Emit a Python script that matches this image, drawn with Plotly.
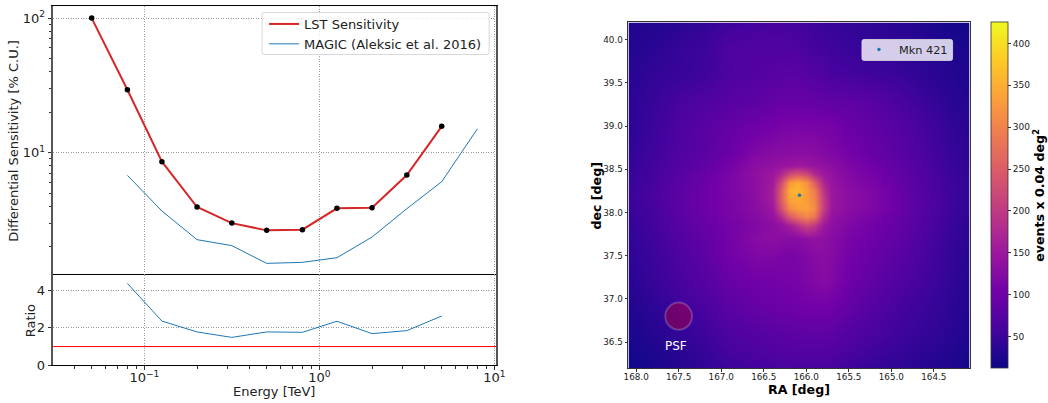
import plotly.graph_objects as go
import plotly.express as px

W, H = 1048, 403
ML, MR, MT, MB = 53, 40.3, 5.5, 35.3
PW, PH = W - ML - MR, H - MT - MB

energy_lst = [0.05, 0.08, 0.126, 0.2, 0.316, 0.5, 0.8, 1.26, 2.0, 3.16, 5.0]
sens_lst = [100, 29.4, 8.58, 3.95, 3.0, 2.65, 2.68, 3.86, 3.9, 6.82, 15.7]
energy_magic = [0.08, 0.126, 0.2, 0.316, 0.5, 0.8, 1.26, 2.0, 3.16, 5.0, 8.0]
sens_magic = [6.79, 3.69, 2.26, 2.04, 1.507, 1.533, 1.66, 2.365, 3.84, 6.09, 15.07]
energy_ratio = [0.08, 0.126, 0.2, 0.316, 0.5, 0.8, 1.26, 2.0, 3.16, 5.0]
ratio = [4.37, 2.36, 1.78, 1.49, 1.78, 1.76, 2.35, 1.69, 1.85, 2.63]
unity_x = [0.0301, 10.23]
unity_y = [1, 1]

ra = [168.09, 167.8, 167.5, 167.2, 166.9, 166.6, 166.4, 166.3, 166.2, 166.1,
      166.0, 165.9, 165.8, 165.7, 165.5, 165.2, 164.9, 164.6, 164.3, 164.08]
dec = [40.2, 39.9, 39.6, 39.3, 39.0, 38.7, 38.55, 38.45, 38.35, 38.25,
       38.15, 38.05, 37.95, 37.85, 37.7, 37.5, 37.2, 36.9, 36.6, 36.2]
events = [
    [28, 30, 35, 42, 52, 58, 60, 60, 58, 56, 54, 50, 48, 46, 42, 38, 34, 28, 18, 16],
    [30, 36, 45, 50, 68, 68, 68, 68, 68, 66, 62, 58, 56, 52, 48, 42, 38, 32, 26, 22],
    [33, 42, 46, 52, 66, 72, 76, 78, 78, 78, 76, 72, 68, 62, 58, 52, 48, 38, 32, 26],
    [36, 46, 60, 68, 76, 82, 88, 90, 92, 92, 90, 88, 86, 84, 84, 76, 62, 48, 36, 30],
    [36, 50, 66, 78, 90, 100, 106, 110, 112, 114, 112, 112, 110, 108, 96, 84, 74, 58, 42, 34],
    [40, 54, 68, 80, 96, 118, 126, 128, 128, 130, 130, 128, 122, 118, 106, 92, 78, 62, 46, 36],
    [42, 56, 72, 86, 106, 132, 138, 142, 148, 152, 148, 142, 138, 132, 116, 100, 84, 66, 48, 38],
    [44, 58, 76, 92, 112, 136, 148, 170, 215, 235, 215, 175, 150, 138, 122, 106, 86, 68, 50, 38],
    [46, 60, 78, 96, 114, 134, 155, 220, 325, 348, 320, 250, 170, 144, 126, 110, 90, 70, 52, 40],
    [48, 62, 80, 98, 114, 132, 160, 245, 350, 358, 330, 290, 190, 148, 130, 116, 92, 70, 52, 40],
    [48, 62, 80, 98, 112, 130, 158, 245, 340, 345, 330, 300, 205, 150, 132, 118, 94, 72, 52, 40],
    [46, 60, 80, 98, 112, 128, 150, 225, 310, 330, 335, 310, 205, 148, 130, 116, 94, 72, 52, 40],
    [44, 58, 78, 96, 110, 124, 140, 175, 245, 280, 305, 280, 180, 140, 124, 108, 90, 70, 50, 38],
    [42, 56, 76, 92, 106, 120, 132, 138, 158, 185, 215, 195, 150, 134, 118, 102, 88, 68, 48, 36],
    [40, 52, 70, 86, 106, 126, 134, 130, 126, 126, 134, 138, 134, 128, 112, 98, 84, 64, 46, 34],
    [38, 50, 66, 82, 104, 118, 118, 114, 112, 114, 120, 126, 130, 124, 106, 92, 78, 60, 44, 32],
    [34, 46, 60, 74, 92, 102, 104, 106, 108, 110, 116, 120, 124, 120, 100, 84, 70, 56, 42, 30],
    [28, 38, 50, 62, 80, 90, 94, 96, 98, 100, 102, 104, 104, 100, 88, 72, 58, 48, 38, 28],
    [22, 32, 42, 52, 66, 74, 78, 80, 82, 84, 84, 84, 84, 82, 72, 62, 52, 44, 36, 26],
    [14, 22, 30, 40, 50, 56, 58, 60, 62, 62, 62, 62, 60, 58, 52, 44, 38, 32, 26, 16],
]
source_ra = [166.08]
source_dec = [38.2]
psf_ra, psf_dec, psf_radius = 167.5, 36.8, 0.157

energy_ticks = [0.1, 1, 10]
energy_labels = ["10<sup>\u22121</sup>", "10<sup>0</sup>", "10<sup>1</sup>"]
energy_minor = [0.04, 0.05, 0.06, 0.07, 0.08, 0.09, 0.2, 0.3, 0.4, 0.5, 0.6, 0.7,
                0.8, 0.9, 2, 3, 4, 5, 6, 7, 8, 9]
sens_ticks = [10, 100]
sens_labels = ["10<sup>1</sup>", "10<sup>2</sup>"]
sens_minor = [2, 3, 4, 5, 6, 7, 8, 9, 20, 30, 40, 50, 60, 70, 80, 90]
ratio_ticks = [0, 2, 4]
ra_ticks = [168.0, 167.5, 167.0, 166.5, 166.0, 165.5, 165.0, 164.5]
dec_ticks = [36.5, 37.0, 37.5, 38.0, 38.5, 39.0, 39.5, 40.0]
cbar_ticks = [50, 100, 150, 200, 250, 300, 350, 400]

FONT = "DejaVu Sans"
RED = "#d62728"
BLUE = "#1f77b4"


def px_x(v):
    return (v - ML) / PW


def px_y(v):
    return (H - MB - v) / PH


def rounded_box(x0, y0, x1, y1, r=2.0):
    a, b, c, d = px_x(x0), px_y(y0), px_x(x1), px_y(y1)
    rx, ry = r / PW, r / PH
    return (f"M {a+rx} {b} L {c-rx} {b} Q {c} {b} {c} {b-ry} L {c} {d+ry} Q {c} {d} {c-rx} {d} "
            f"L {a+rx} {d} Q {a} {d} {a} {d+ry} L {a} {b-ry} Q {a} {b} {a+rx} {b} Z")


def label(text, x, y, font, angle=0):
    return dict(text=text, xref="paper", yref="paper", x=px_x(x), y=px_y(y), showarrow=False,
                xanchor="center", yanchor="middle", textangle=angle, font=font)


fig = go.Figure()
fig.add_trace(go.Scatter(x=energy_lst, y=sens_lst, mode="lines", name="LST Sensitivity",
                         line=dict(color=RED, width=2), xaxis="x2", yaxis="y2", legend="legend"))
fig.add_trace(go.Scatter(x=energy_magic, y=sens_magic, mode="lines",
                         name="MAGIC (Aleksic et al. 2016)",
                         line=dict(color=BLUE, width=1), xaxis="x2", yaxis="y2", legend="legend"))
fig.add_trace(go.Scatter(x=energy_lst, y=sens_lst, mode="markers", showlegend=False,
                         marker=dict(color="black", size=5.5), xaxis="x2", yaxis="y2"))
fig.add_trace(go.Scatter(x=energy_ratio, y=ratio, mode="lines", showlegend=False,
                         line=dict(color=BLUE, width=1), xaxis="x", yaxis="y"))
fig.add_trace(go.Scatter(x=unity_x, y=unity_y, mode="lines", showlegend=False,
                         line=dict(color="red", width=1), xaxis="x", yaxis="y"))
fig.add_trace(go.Heatmap(
    x=ra, y=dec[::-1], z=events[::-1], zsmooth="best", zmin=12, zmax=425,
    colorscale=px.colors.sequential.Plasma, xaxis="x3", yaxis="y3",
    colorbar=dict(
        x=px_x(990.3), xanchor="left", xpad=0, y=px_y(22), yanchor="top", ypad=0,
        len=345.7 / PH, lenmode="fraction", thickness=17.4, thicknessmode="pixels",
        outlinecolor="#333", outlinewidth=0.8,
        tickmode="array", tickvals=cbar_ticks, ticks="outside", ticklen=3, tickwidth=0.8,
        tickcolor="#333", tickfont=dict(family=FONT, size=9, color="#222"),
    ),
))
fig.add_trace(go.Scatter(x=source_ra, y=source_dec, mode="markers", name="Mkn 421",
                         marker=dict(color=BLUE, size=3.5), xaxis="x3", yaxis="y3",
                         legend="legend2"))

grid = dict(showgrid=True, gridcolor="#999999", griddash="1px,1.5px", gridwidth=0.8, automargin=False)
tick_font = dict(family=FONT, size=13, color="#222")
title_font = dict(family=FONT, size=13, color="#222")
minor_style = dict(ticks="outside", ticklen=2.5, tickwidth=0.7, tickcolor="#333", showgrid=False)
small_font = dict(family=FONT, size=8.8, color="#222")
bold_font = dict(family=FONT, size=12.6, color="black", weight="bold")

fig.update_layout(
    width=W, height=H, autosize=False,
    margin=dict(l=ML, r=MR, t=MT, b=MB, pad=0, autoexpand=False),
    paper_bgcolor="white", plot_bgcolor="white", font=dict(family=FONT, color="#222"),
    xaxis=dict(domain=[px_x(53), px_x(496)], type="log", range=[-1.522, 1.01], anchor="y",
               tickmode="array", tickvals=energy_ticks, ticktext=energy_labels,
               ticks="outside", ticklen=3.5, tickwidth=0.8, tickfont=tick_font, tickcolor="#333",
               ticklabelstandoff=-3,
               minor=dict(tickvals=energy_minor, **minor_style),
               linecolor="black", linewidth=1, mirror=True, **grid),
    yaxis=dict(domain=[px_y(365), px_y(275)], range=[0, 4.8], anchor="x",
               tickmode="array", tickvals=ratio_ticks, ticks="outside", ticklen=3.5, tickwidth=0.8,
               tickfont=tick_font, tickcolor="#333", zeroline=False,
               linecolor="#555", linewidth=1.5, mirror=True, **grid),
    xaxis2=dict(domain=[px_x(53), px_x(496)], type="log", range=[-1.522, 1.01], anchor="y2",
                side="top", tickmode="array", tickvals=energy_ticks, showticklabels=False, ticks="",
                linecolor="black", linewidth=1, mirror=False, **grid),
    yaxis2=dict(domain=[px_y(275), px_y(5.5)], type="log", range=[0.089, 2.09], anchor="x2",
                tickmode="array", tickvals=sens_ticks, ticktext=sens_labels,
                ticks="outside", ticklen=3.5, tickwidth=0.8, tickfont=tick_font, tickcolor="#333",
                minor=dict(tickvals=sens_minor, **minor_style),
                linecolor="#555", linewidth=1.5, mirror=True, **grid),
    xaxis3=dict(domain=[px_x(628.3), px_x(969.3)], range=[168.09, 164.08], anchor="y3",
                tickmode="array", tickvals=ra_ticks, tickformat=".1f", ticks="outside", ticklen=3,
                tickwidth=0.8, tickcolor="#333", showgrid=False, zeroline=False, automargin=False,
                tickfont=small_font, ticklabelstandoff=-2,
                linecolor="#333", linewidth=0.8, mirror=True),
    yaxis3=dict(domain=[px_y(367.7), px_y(22)], range=[36.2, 40.2], anchor="x3",
                tickmode="array", tickvals=dec_ticks, tickformat=".1f", ticks="outside", ticklen=3,
                tickwidth=0.8, tickcolor="#333", showgrid=False, zeroline=False, automargin=False,
                tickfont=small_font,
                linecolor="#333", linewidth=0.8, mirror=True),
    legend=dict(x=px_x(264), y=px_y(8.5), xanchor="left", yanchor="top",
                bgcolor="rgba(0,0,0,0)", borderwidth=0,
                font=dict(family=FONT, size=13, color="#222")),
    legend2=dict(x=px_x(858.7), y=px_y(34.5), xanchor="left", yanchor="top",
                 bgcolor="rgba(0,0,0,0)", borderwidth=0,
                 font=dict(family=FONT, size=11.3, color="#222")),
    shapes=[
        dict(type="circle", xref="x3", yref="y3",
             x0=psf_ra - psf_radius, x1=psf_ra + psf_radius,
             y0=psf_dec - psf_radius, y1=psf_dec + psf_radius,
             fillcolor="rgba(255,0,0,0.28)", line=dict(color="rgba(255,255,255,0.2)", width=2)),
        dict(type="path", xref="paper", yref="paper", path=rounded_box(262, 12, 489, 54),
             fillcolor="rgba(255,255,255,0.8)", line=dict(color="#d8d8d8", width=1)),
        dict(type="path", xref="paper", yref="paper", path=rounded_box(861.7, 39, 952.3, 60),
             fillcolor="rgba(255,255,255,0.8)", line=dict(color="rgba(220,220,220,0.8)", width=1)),
    ],
    annotations=[
        label("PSF", 675.7, 345.7, dict(family=FONT, size=12, color="white")),
        label("Differential Sensitivity [% C.U.]", 14, 140.3, title_font, -90),
        label("Ratio", 30, 320, title_font, -90),
        label("Energy [TeV]", 274, 391, title_font),
        label("RA [deg]", 799, 389, bold_font),
        label("dec [deg]", 596, 195, bold_font, -90),
        label("events x 0.04 deg<sup>2</sup>", 1039, 195,
              dict(family=FONT, size=12.6, color="black", weight="bold"), -90),
    ],
)

fig.write_html("out.html", config={"displayModeBar": False},
               post_script="document.body.style.margin='0';")
